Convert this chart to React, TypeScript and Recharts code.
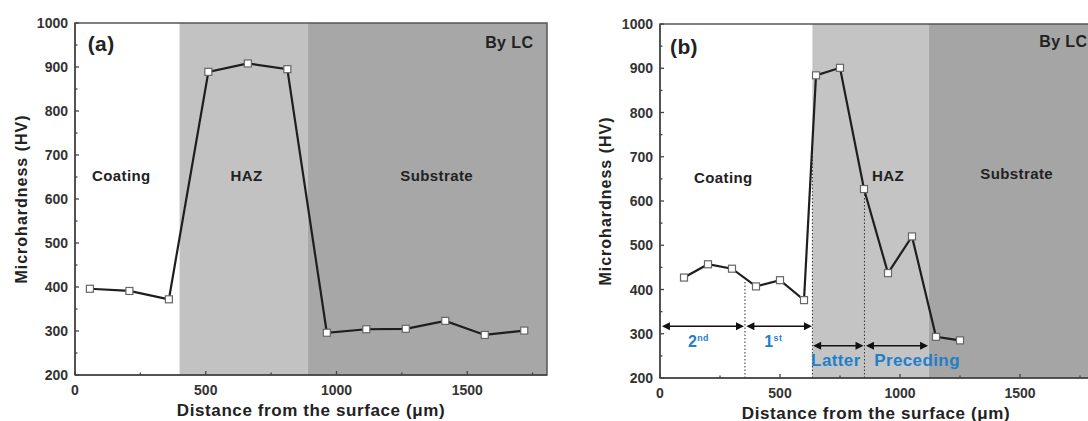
import {
  LineChart,
  Line,
  XAxis,
  YAxis,
  ReferenceArea,
  ReferenceLine,
  ReferenceDot,
  Label,
} from "recharts";

// panel (a): hardness profile by LC
const leftX = [57, 208, 359, 510, 661, 812, 963, 1114, 1265, 1416, 1567, 1718];
const leftHV = [396, 391, 372, 889, 908, 895, 296, 304, 305, 323, 291, 301];
const leftZones = [400, 890, 1805];

// panel (b)
const rightX = [100, 200, 300, 400, 500, 600, 650, 750, 850, 950, 1050, 1150, 1250];
const rightHV = [427, 457, 447, 407, 421, 376, 884, 901, 627, 437, 520, 293, 285];
const rightZones = [635, 1120, 1800];

const yTicks = [200, 250, 300, 350, 400, 450, 500, 550, 600, 650, 700, 750, 800, 850, 900, 950, 1000];
const xTicks = [0, 250, 500, 750, 1000, 1250, 1500, 1750];

const leftData = leftX.map((x, i) => ({ x, hv: leftHV[i] }));
const rightData = rightX.map((x, i) => ({ x, hv: rightHV[i] }));

const FONT = "'Liberation Sans', Arial, sans-serif";
const BLUE = "#1f7fc9";

function XTick(props: any) {
  const { x, y, payload } = props;
  const major = payload.value % 500 === 0;
  return (
    <g>
      <line x1={x} x2={x} y1={y} y2={y - (major ? 4 : 2.5)} stroke="#444" strokeWidth={1.3} />
      {major && (
        <text x={x} y={y + 20} textAnchor="middle" fontSize={14} fontWeight="bold" fill="#333" fontFamily={FONT}>
          {payload.value}
        </text>
      )}
    </g>
  );
}

function YTick(props: any) {
  const { x, y, payload } = props;
  const major = payload.value % 100 === 0;
  return (
    <g>
      <line x1={x} x2={x + (major ? 4 : 2.5)} y1={y} y2={y} stroke="#444" strokeWidth={1.3} />
      {major && (
        <text x={x - 7} y={y + 5} textAnchor="end" fontSize={14} fontWeight="bold" fill="#333" fontFamily={FONT}>
          {payload.value}
        </text>
      )}
    </g>
  );
}

function SquareDot(props: any) {
  const { cx, cy } = props;
  if (cx == null || cy == null) return null;
  return <rect x={cx - 3.5} y={cy - 3.5} width={7} height={7} fill="#fff" stroke="#666" strokeWidth={1.2} />;
}

function textShape(text: string, size: number, anchor = "middle", fill = "#222", sup?: string) {
  return (p: any) => (
    <text
      x={p.cx}
      y={p.cy + size * 0.36}
      textAnchor={anchor}
      fontSize={size}
      fontWeight="bold"
      fill={fill}
      fontFamily={FONT}
      letterSpacing={0.4}
    >
      {text}
      {sup && (
        <tspan fontSize={size * 0.55} dy={-size * 0.35}>
          {sup}
        </tspan>
      )}
    </text>
  );
}

function Arrow(p: any) {
  const { x1, y1, x2, y2 } = p;
  const h = 8;
  const w = 4;
  return (
    <g>
      <line x1={x1 + 2} y1={y1} x2={x2 - 2} y2={y2} stroke="#111" strokeWidth={1.6} />
      <polygon points={`${x1},${y1} ${x1 + h},${y1 - w} ${x1 + h},${y1 + w}`} fill="#111" />
      <polygon points={`${x2},${y2} ${x2 - h},${y2 - w} ${x2 - h},${y2 + w}`} fill="#111" />
    </g>
  );
}

function xTitle(dy: number) {
  return (p: any) => {
    const vb = p.viewBox;
    return (
      <text
        x={vb.x + vb.width / 2}
        y={vb.y + dy}
        textAnchor="middle"
        fontSize={17}
        fontWeight="bold"
        fill="#222"
        fontFamily={FONT}
        letterSpacing={0.6}
      >
        Distance from the surface (μm)
      </text>
    );
  };
}

function yTitle(dx: number) {
  return (p: any) => {
    const vb = p.viewBox;
    const cx = vb.x + dx;
    const cy = vb.y + vb.height / 2;
    return (
      <text
        x={cx}
        y={cy}
        transform={`rotate(-90 ${cx} ${cy})`}
        textAnchor="middle"
        dominantBaseline="central"
        fontSize={16}
        fontWeight="bold"
        fill="#222"
        fontFamily={FONT}
        letterSpacing={1}
      >
        Microhardness (HV)
      </text>
    );
  };
}

function Panel(props: {
  data: { x: number; hv: number }[];
  zones: number[];
  width: number;
  margin: any;
  yWidth: number;
  xHeight: number;
  titleDx: number;
  light: string;
  dark: string;
  children?: any;
}) {
  const { data, zones, width, margin, yWidth, xHeight, titleDx, light, dark } = props;
  const xMax = zones[2];
  return (
    <LineChart width={width} height={421} data={data} margin={margin}>
      <XAxis
        type="number"
        dataKey="x"
        domain={[0, xMax]}
        ticks={xTicks}
        interval={0}
        tick={<XTick />}
        tickLine={false}
        tickSize={0}
        tickMargin={0}
        height={xHeight}
        axisLine={{ stroke: "#444", strokeWidth: 1.5 }}
        allowDataOverflow
      >
        <Label content={xTitle(41)} />
      </XAxis>
      <YAxis
        type="number"
        domain={[200, 1000]}
        ticks={yTicks}
        interval={0}
        tick={<YTick />}
        tickLine={false}
        tickSize={0}
        tickMargin={0}
        width={yWidth}
        axisLine={{ stroke: "#444", strokeWidth: 1.5 }}
        allowDataOverflow
      >
        <Label content={yTitle(titleDx)} />
      </YAxis>
      <ReferenceArea x1={zones[0]} x2={zones[1]} y1={200} y2={1000} fill={light} fillOpacity={1} stroke="none" />
      <ReferenceArea x1={zones[1]} x2={zones[2]} y1={200} y2={1000} fill={dark} fillOpacity={1} stroke="none" />
      <ReferenceArea x1={0} x2={xMax} y1={200} y2={1000} fill="none" stroke="#555" strokeWidth={1.5} />
      {props.children}
      <Line
        type="linear"
        dataKey="hv"
        stroke="#1e1e1e"
        strokeWidth={2.2}
        dot={<SquareDot />}
        activeDot={false}
        isAnimationActive={false}
      />
    </LineChart>
  );
}

export default function App() {
  return (
    <div
      style={{
        position: "fixed",
        left: 0,
        top: 0,
        width: 1088,
        height: 421,
        overflow: "hidden",
        background: "#fff",
      }}
    >
      <div style={{ position: "absolute", left: 0, top: 0 }}>
        <Panel
          data={leftData}
          zones={leftZones}
          width={560}
          margin={{ top: 23, right: 13, bottom: 0, left: 10 }}
          yWidth={65}
          xHeight={46}
          titleDx={11}
          light="#c2c2c2"
          dark="#a7a7a7"
        >
          <ReferenceDot x={100} y={954} r={1} shape={textShape("(a)", 21)} />
          <ReferenceDot x={1753} y={957} r={1} shape={textShape("By LC", 16, "end")} />
          <ReferenceDot x={177} y={653} r={1} shape={textShape("Coating", 15)} />
          <ReferenceDot x={656} y={653} r={1} shape={textShape("HAZ", 15)} />
          <ReferenceDot x={1383} y={653} r={1} shape={textShape("Substrate", 15)} />
        </Panel>
      </div>
      <div style={{ position: "absolute", left: 580, top: 0 }}>
        <Panel
          data={rightData}
          zones={rightZones}
          width={530}
          margin={{ top: 24, right: 18, bottom: 0, left: 10 }}
          yWidth={70}
          xHeight={43}
          titleDx={15}
          light="#c4c4c4"
          dark="#a5a5a5"
        >
          <ReferenceLine segment={[{ x: 354, y: 200 }, { x: 354, y: 421 }]} stroke="#333" strokeDasharray="1.5 2" />
          <ReferenceLine segment={[{ x: 635, y: 200 }, { x: 635, y: 730 }]} stroke="#333" strokeDasharray="1.5 2" />
          <ReferenceLine segment={[{ x: 852, y: 200 }, { x: 852, y: 627 }]} stroke="#333" strokeDasharray="1.5 2" />
          <ReferenceLine segment={[{ x: 8, y: 317 }, { x: 350, y: 317 }]} shape={<Arrow />} />
          <ReferenceLine segment={[{ x: 360, y: 317 }, { x: 633, y: 317 }]} shape={<Arrow />} />
          <ReferenceLine segment={[{ x: 638, y: 273 }, { x: 848, y: 273 }]} shape={<Arrow />} />
          <ReferenceLine segment={[{ x: 858, y: 273 }, { x: 1117, y: 273 }]} shape={<Arrow />} />
          <ReferenceDot x={100} y={950} r={1} shape={textShape("(b)", 21)} />
          <ReferenceDot x={1580} y={960} r={1} shape={textShape("By LC", 16, "start")} />
          <ReferenceDot x={264} y={654} r={1} shape={textShape("Coating", 15)} />
          <ReferenceDot x={950} y={657} r={1} shape={textShape("HAZ", 15)} />
          <ReferenceDot x={1486} y={662} r={1} shape={textShape("Substrate", 15)} />
          <ReferenceDot x={160} y={284} r={1} shape={textShape("2", 16, "middle", BLUE, "nd")} />
          <ReferenceDot x={472} y={284} r={1} shape={textShape("1", 16, "middle", BLUE, "st")} />
          <ReferenceDot x={733} y={240} r={1} shape={textShape("Latter", 17, "middle", BLUE)} />
          <ReferenceDot x={1071} y={240} r={1} shape={textShape("Preceding", 17, "middle", BLUE)} />
        </Panel>
      </div>
    </div>
  );
}
